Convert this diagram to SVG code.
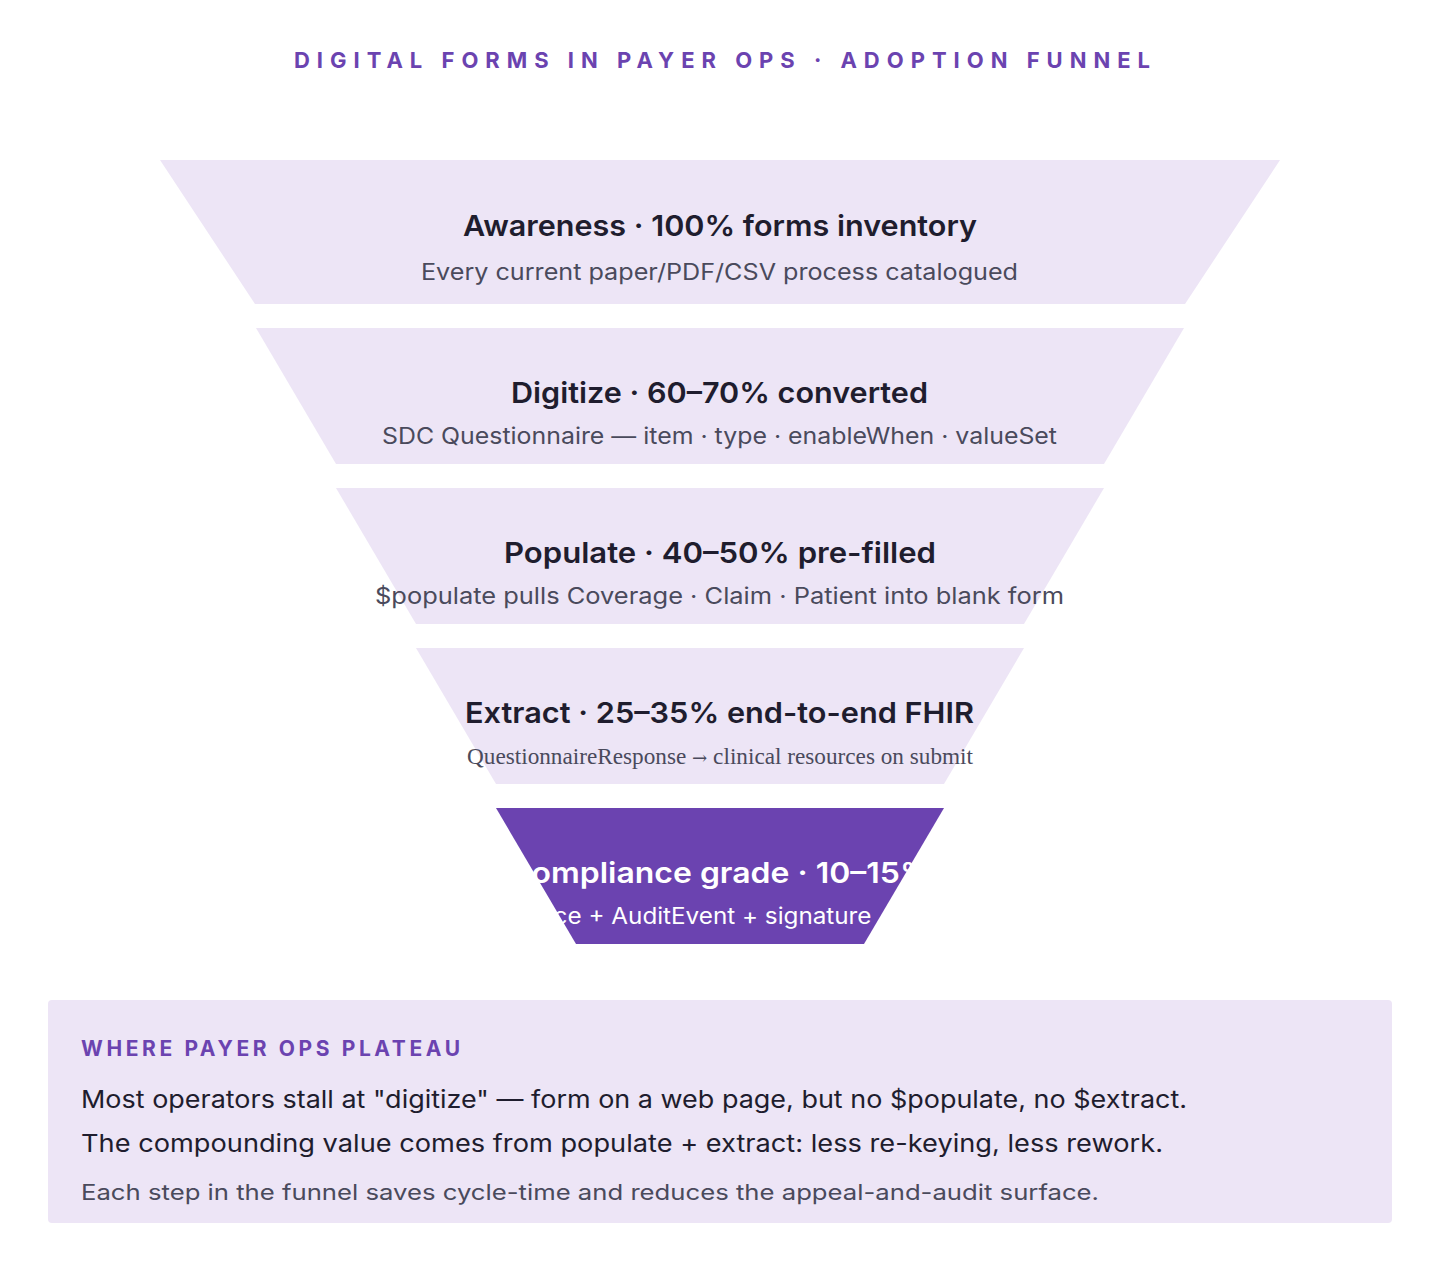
<svg xmlns="http://www.w3.org/2000/svg" width="1440" height="1280" viewBox="0 0 1440 1280">
<style>
.stage{fill:#ede5f6}
.stage-hi{fill:#6b43b0}
.t{font-family:Inter,"Noto Sans",sans-serif;font-weight:600;font-size:29px;fill:#1f1d2e}
.s{font-family:Inter,"Noto Sans",sans-serif;font-weight:400;font-size:22.5px;fill:#4a4a5c}
.serif{font-family:"Liberation Serif","DejaVu Serif",serif;font-size:23px;fill:#4a4a5c}
.w{fill:#ffffff}
.hd{font-family:Inter,"Noto Sans",sans-serif;font-weight:700;fill:#6b43b0}
.body{font-family:Inter,"Noto Sans",sans-serif;font-weight:400;font-size:24.5px;fill:#1f1d2e}
.note{font-family:Inter,"Noto Sans",sans-serif;font-weight:400;font-size:21.5px;fill:#4a4a5c}
</style>
<rect width="1440" height="1280" fill="#ffffff"/>
<text class="hd" x="294" y="68" font-size="22" textLength="856" lengthAdjust="spacing">DIGITAL FORMS IN PAYER OPS · ADOPTION FUNNEL</text>

<g id="stage-awareness">
<polygon class="stage" points="160,160 1280,160 1185,304 255,304"/>
<text class="t" x="463" y="236" textLength="514" lengthAdjust="spacingAndGlyphs">Awareness · 100% forms inventory</text>
<text class="s" x="421" y="280" textLength="597" lengthAdjust="spacingAndGlyphs">Every current paper/PDF/CSV process catalogued</text>
</g>

<g id="stage-digitize">
<polygon class="stage" points="256,328 1184,328 1104,464 336,464"/>
<text class="t" x="511" y="403" textLength="417" lengthAdjust="spacingAndGlyphs">Digitize · 60–70% converted</text>
<text class="s" x="382" y="444" textLength="675" lengthAdjust="spacingAndGlyphs">SDC Questionnaire — item · type · enableWhen · valueSet</text>
</g>

<g id="stage-populate">
<polygon class="stage" points="336,488 1104,488 1024,624 416,624"/>
<text class="t" x="504" y="563" textLength="432" lengthAdjust="spacingAndGlyphs">Populate · 40–50% pre-filled</text>
<text class="s" x="375" y="604" textLength="689" lengthAdjust="spacingAndGlyphs">$populate pulls Coverage · Claim · Patient into blank form</text>
</g>

<g id="stage-extract">
<polygon class="stage" points="416,648 1024,648 944,784 496,784"/>
<text class="t" x="465" y="723" textLength="509" lengthAdjust="spacingAndGlyphs">Extract · 25–35% end-to-end FHIR</text>
<text class="serif" x="467" y="764" textLength="506" lengthAdjust="spacingAndGlyphs">QuestionnaireResponse <tspan font-family="'DejaVu Serif',serif" font-size="18">→</tspan> clinical resources on submit</text>
</g>

<g id="stage-compliance">
<polygon class="stage-hi" points="496,808 944,808 864,944 576,944"/>
<text class="t w" x="508" y="883" textLength="424" lengthAdjust="spacingAndGlyphs">Compliance grade · 10–15%</text>
<text class="s w" x="400" y="924" textLength="645" lengthAdjust="spacingAndGlyphs">Full provenance + AuditEvent + signature + retention log</text>
</g>

<g id="plateau-note">
<rect x="48" y="1000" width="1344" height="223" rx="4" fill="#ede5f6"/>
<text class="hd" x="81" y="1056" font-size="21" textLength="379" lengthAdjust="spacing">WHERE PAYER OPS PLATEAU</text>
<text class="body" x="81" y="1108" textLength="1106" lengthAdjust="spacingAndGlyphs">Most operators stall at "digitize" — form on a web page, but no $populate, no $extract.</text>
<text class="body" x="81" y="1152" textLength="1082" lengthAdjust="spacingAndGlyphs">The compounding value comes from populate + extract: less re-keying, less rework.</text>
<text class="note" x="81" y="1200" textLength="1018" lengthAdjust="spacingAndGlyphs">Each step in the funnel saves cycle-time and reduces the appeal-and-audit surface.</text>
</g>
</svg>
